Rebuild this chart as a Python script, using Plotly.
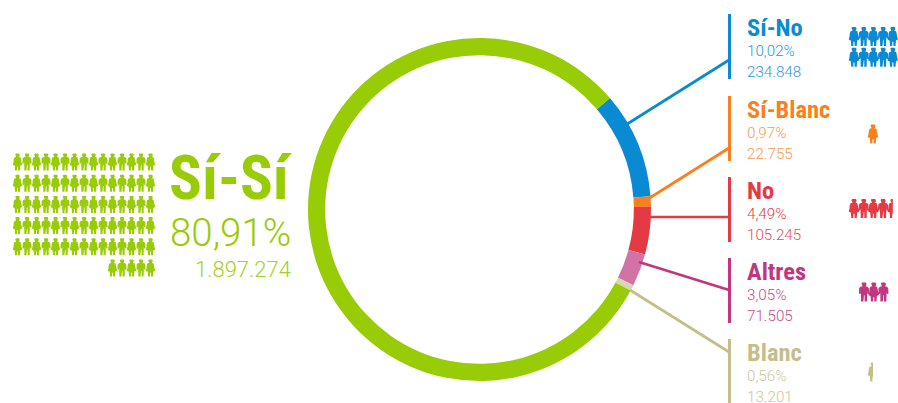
import plotly.graph_objects as go

# ---- data ----
categories = ["Sí-No", "Sí-Blanc", "No", "Altres", "Blanc", "Sí-Sí"]
percents = [10.02, 0.97, 4.49, 3.05, 0.56, 80.91]
percent_labels = ["10,02%", "0,97%", "4,49%", "3,05%", "0,56%", "80,91%"]
vote_labels = ["234.848", "22.755", "105.245", "71.505", "13.201", "1.897.274"]
ring_colors = ["#0A8AD2", "#F97F1F", "#E43A43", "#D173A4", "#D9D6B8", "#97CC06"]
title_colors = ["#0A8AD2", "#F97F1F", "#E43A43", "#C0377F", "#C4BE8B", "#97CC06"]
pct_colors = ["#2D9BDA", "#F99A50", "#E43A43", "#C94C8F", "#CCC89C", "#97CC06"]
val_colors = ["#2D9BDA", "#F99A50", "#E84F57", "#C94C8F", "#CCC89C", "#A3D224"]

W, H = 898, 403
CX, CY, R = 479.5, 209.5, 171.5

block_top = [14, 96, 177, 258, 339]
block_h = 65
leader_start = [(624, 126), (648, 199), (649, 217), (639, 262), (630, 290)]
leader_end_y = [60, 148, 217, 290, 352]
pic_origin = [(854, 36.5), (873, 134), (854, 208.5), (864, 292), (873, 372)]
pic_cols = [5, 1, 5, 3, 1]
pic_offset = [0, 0, 0, 1, 0]


def person(cx, cy, h, wide, half=False):
    """Outline of one person as one polygon (head + body joined by a neck)."""
    s = h / 18.0
    if wide:
        prof = [(0, -9), (1.6, -9), (2.4, -8), (2.2, -6.4), (1.4, -5.4), (3.2, -5.0), (4.0, -3.0), (4.2, 0),
                (5.0, 2.8), (3.8, 3.6), (3.0, 3.8), (2.6, 9), (0.6, 9), (0.5, 5), (0, 5)]
    else:
        prof = [(0, -9), (1.6, -9), (2.4, -8), (2.2, -6.4), (1.4, -5.4), (3.4, -5.0), (4.6, -3.6), (4.8, 1.6),
                (3.4, 1.8), (3.0, 0), (2.8, 9), (0.6, 9), (0.5, 3), (0, 3)]
    left = [(-x, y) for x, y in prof]
    body = left + ([] if half else [(x, y) for x, y in reversed(prof)])
    xs = [cx + x * s for x, y in body] + [None]
    ys = [cy + y * s for x, y in body] + [None]
    return xs, ys


def pictogram(count, x0, y0, cols, dx, dy, h, offset=0, right_align_last=False):
    xs, ys = [], []
    whole = int(count)
    total = whole + (1 if count - whole >= 0.4 else 0)
    for n in range(total):
        r, c = divmod(n, cols)
        if right_align_last and total - n <= total % cols:
            c = cols - (total % cols) + (n - (total - total % cols))
        half = n >= whole
        px, py = person(x0 + c * dx, y0 + r * dy, h, ((c + offset) % 2 == 0), half)
        xs += px
        ys += py
    return xs, ys


fig = go.Figure()

fig.add_trace(go.Pie(
    labels=categories, values=percents, sort=False, direction="clockwise", rotation=49.5,
    hole=0.9, marker=dict(colors=ring_colors, line=dict(width=0)), textinfo="none",
    showlegend=False, hoverinfo="label+percent",
    domain=dict(x=[(CX - R) / W, (CX + R) / W], y=[1 - (CY + R) / H, 1 - (CY - R) / H]),
))

for i in range(5):
    shown = round(percents[i] * 2) / 2
    xs, ys = pictogram(shown, pic_origin[i][0], pic_origin[i][1], pic_cols[i], 9.7, 20.7, 19, pic_offset[i])
    fig.add_trace(go.Scatter(x=xs, y=ys, mode="lines", fill="toself", fillcolor=title_colors[i],
                             line=dict(width=0), hoverinfo="skip", showlegend=False))
xs, ys = pictogram(int(percents[5]), 17.5, 162, 15, 9.5, 21.2, 17, right_align_last=True)
fig.add_trace(go.Scatter(x=xs, y=ys, mode="lines", fill="toself", fillcolor=ring_colors[5],
                         line=dict(width=0), hoverinfo="skip", showlegend=False))

shapes = []
for i in range(5):
    c = title_colors[i]
    shapes.append(dict(type="line", xref="x", yref="y", x0=729.5, x1=729.5, y0=block_top[i],
                       y1=block_top[i] + block_h, line=dict(color=c, width=3), layer="above"))
    shapes.append(dict(type="line", xref="x", yref="y", x0=leader_start[i][0], y0=leader_start[i][1],
                       x1=729, y1=leader_end_y[i], line=dict(color=c, width=2.7), layer="above"))

TITLE_FONT = "Roboto Condensed, Open Sans Condensed, Noto Sans Condensed, DejaVu Sans Condensed"
LIGHT_FONT = "Roboto Light, Roboto"
ann = []


def text(x, y, s, size, color, family, anchor="left", bold=False):
    ann.append(dict(x=x, y=y, xref="x", yref="y", text=f"<b>{s}</b>" if bold else s, showarrow=False,
                    xanchor=anchor, yanchor="middle", align=anchor,
                    font=dict(size=size, color=color, family=family)))


for i in range(5):
    top = block_top[i]
    text(745, top + 13, categories[i], 24.5, title_colors[i], TITLE_FONT, bold=True)
    text(745, top + 37, percent_labels[i], 15.2, pct_colors[i], LIGHT_FONT)
    text(745, top + 58, vote_labels[i], 15.2, val_colors[i], LIGHT_FONT)

text(167, 178, categories[5], 61, title_colors[5], TITLE_FONT, bold=True)
text(293, 232, percent_labels[5], 38.5, pct_colors[5], LIGHT_FONT, anchor="right")
text(292.5, 269, vote_labels[5], 22, val_colors[5], LIGHT_FONT, anchor="right")

fig.update_layout(
    width=W, height=H, margin=dict(l=0, r=0, t=0, b=0), paper_bgcolor="white", plot_bgcolor="white",
    xaxis=dict(range=[0, W], visible=False, fixedrange=True),
    yaxis=dict(range=[H, 0], visible=False, fixedrange=True),
    shapes=shapes, annotations=ann, showlegend=False,
)
fig.write_html("out.html", config=dict(displayModeBar=False),
               post_script="document.body.style.margin='0';document.body.style.overflow='hidden';")
